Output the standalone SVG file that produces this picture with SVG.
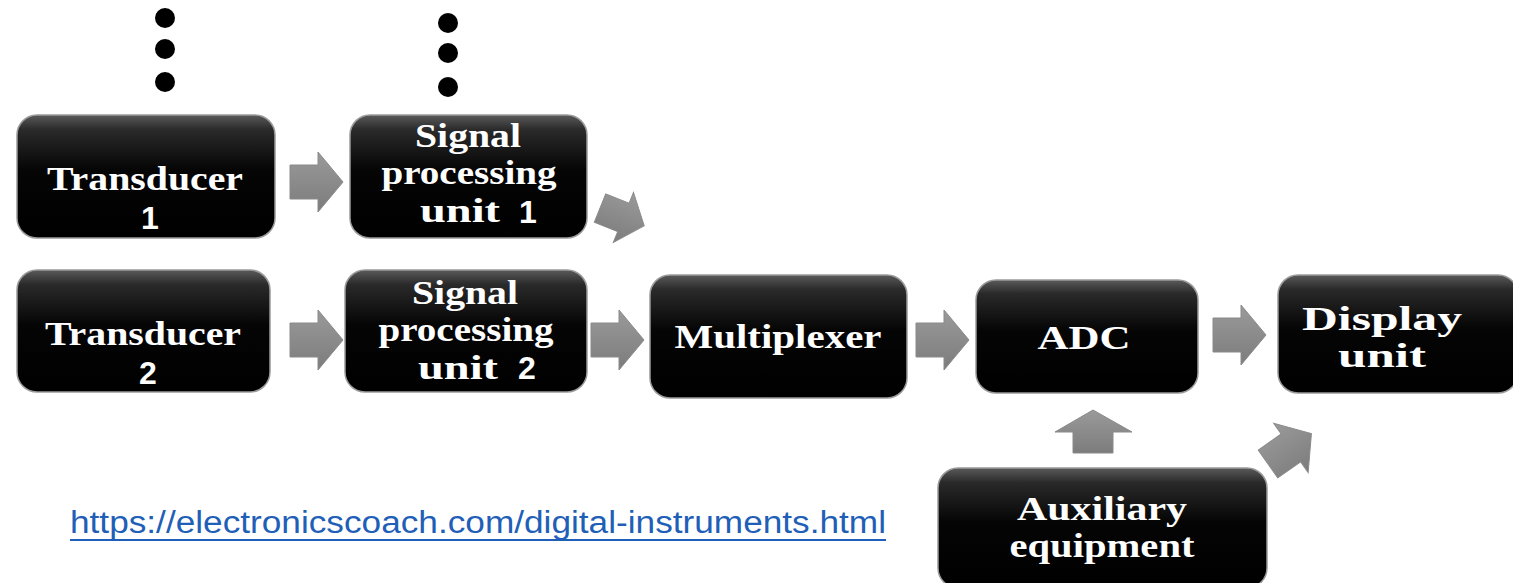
<svg xmlns="http://www.w3.org/2000/svg" width="1513" height="583" viewBox="0 0 1513 583">
<defs>
<linearGradient id="boxg" x1="0" y1="0" x2="0" y2="1">
<stop offset="0" stop-color="#5a5a5a"/>
<stop offset="0.12" stop-color="#2a2a2a"/>
<stop offset="0.45" stop-color="#050505"/>
<stop offset="1" stop-color="#000"/>
</linearGradient>
<linearGradient id="arrg" x1="0" y1="0" x2="0" y2="1">
<stop offset="0" stop-color="#9a9a9a"/>
<stop offset="1" stop-color="#7c7c7c"/>
</linearGradient>
<path id="arr" d="M0,-17 H28 V-30 L53,0 L28,30 V17 H0 Z"/>
</defs>
<style>
.box{fill:url(#boxg);stroke:#9a9a9a;stroke-width:1.5}
.lbl{font-family:"Liberation Serif","Times New Roman",serif;font-weight:bold;font-size:33px;fill:#fff;text-anchor:middle}
.num{font-family:"Liberation Sans",Arial,sans-serif;font-weight:bold;font-size:32px;fill:#fff;text-anchor:middle}
.arrow{fill:url(#arrg);stroke:#8a8a8a;stroke-width:1}
.dot{fill:#000}
.url{font-family:"Liberation Sans",Arial,sans-serif;font-size:31px;fill:#1f5fb8}
</style>
<rect width="1513" height="583" fill="#fff"/>

<g id="dots">
<circle class="dot" cx="165" cy="18" r="10"/>
<circle class="dot" cx="165" cy="49" r="10"/>
<circle class="dot" cx="165" cy="82" r="10"/>
<circle class="dot" cx="448" cy="23" r="10"/>
<circle class="dot" cx="448" cy="53" r="10"/>
<circle class="dot" cx="448" cy="87" r="10"/>
</g>

<g id="connectors">
<use href="#arr" class="arrow" transform="translate(290,182)"/>
<use href="#arr" class="arrow" transform="translate(290,340)"/>
<use href="#arr" class="arrow" transform="translate(591,340)"/>
<use href="#arr" class="arrow" transform="translate(916,340)"/>
<use href="#arr" class="arrow" transform="translate(1213,335)"/>
<use href="#arr" class="arrow" transform="translate(600,208) rotate(22) scale(0.9)"/>
<path class="arrow" d="M1073,453 V432 H1055 L1093,410 L1132,432 H1113 V453 Z"/>
<use href="#arr" class="arrow" transform="translate(1268,464) rotate(-35)"/>
</g>

<g id="transducer1">
<rect class="box" x="17" y="115" width="258" height="123" rx="20"/>
<text class="lbl" x="145" y="190" textLength="196" lengthAdjust="spacingAndGlyphs">Transducer</text>
<text class="num" x="150" y="229">1</text>
</g>

<g id="spu1">
<rect class="box" x="350" y="115" width="237" height="123" rx="20"/>
<text class="lbl" x="468" y="147" textLength="106" lengthAdjust="spacingAndGlyphs">Signal</text>
<text class="lbl" x="469" y="184" textLength="175" lengthAdjust="spacingAndGlyphs">processing</text>
<text class="lbl" x="460" y="222" textLength="80" lengthAdjust="spacingAndGlyphs">unit</text>
<text class="num" x="528" y="223">1</text>
</g>

<g id="transducer2">
<rect class="box" x="17" y="270" width="253" height="122" rx="20"/>
<text class="lbl" x="143" y="345" textLength="196" lengthAdjust="spacingAndGlyphs">Transducer</text>
<text class="num" x="148" y="384">2</text>
</g>

<g id="spu2">
<rect class="box" x="345" y="270" width="242" height="122" rx="20"/>
<text class="lbl" x="465" y="304" textLength="106" lengthAdjust="spacingAndGlyphs">Signal</text>
<text class="lbl" x="466" y="341" textLength="175" lengthAdjust="spacingAndGlyphs">processing</text>
<text class="lbl" x="458" y="379" textLength="80" lengthAdjust="spacingAndGlyphs">unit</text>
<text class="num" x="527" y="379">2</text>
</g>

<g id="multiplexer">
<rect class="box" x="650" y="275" width="257" height="123" rx="20"/>
<text class="lbl" x="778" y="348" textLength="207" lengthAdjust="spacingAndGlyphs">Multiplexer</text>
</g>

<g id="adc">
<rect class="box" x="976" y="280" width="222" height="113" rx="20"/>
<text class="lbl" x="1084" y="349" textLength="93" lengthAdjust="spacingAndGlyphs">ADC</text>
</g>

<g id="display">
<rect class="box" x="1278" y="275" width="240" height="118" rx="20"/>
<text class="lbl" x="1382" y="330" textLength="160" lengthAdjust="spacingAndGlyphs">Display</text>
<text class="lbl" x="1382" y="367" textLength="88" lengthAdjust="spacingAndGlyphs">unit</text>
</g>

<g id="auxiliary">
<rect class="box" x="938" y="468" width="329" height="120" rx="20"/>
<text class="lbl" x="1102" y="520" textLength="170" lengthAdjust="spacingAndGlyphs">Auxiliary</text>
<text class="lbl" x="1102" y="557" textLength="185" lengthAdjust="spacingAndGlyphs">equipment</text>
</g>

<g id="link">
<text class="url" x="70" y="533" textLength="816" lengthAdjust="spacingAndGlyphs">https://electronicscoach.com/digital-instruments.html</text>
<line x1="70" y1="540" x2="886" y2="540" stroke="#1f5fb8" stroke-width="2"/>
</g>
</svg>
